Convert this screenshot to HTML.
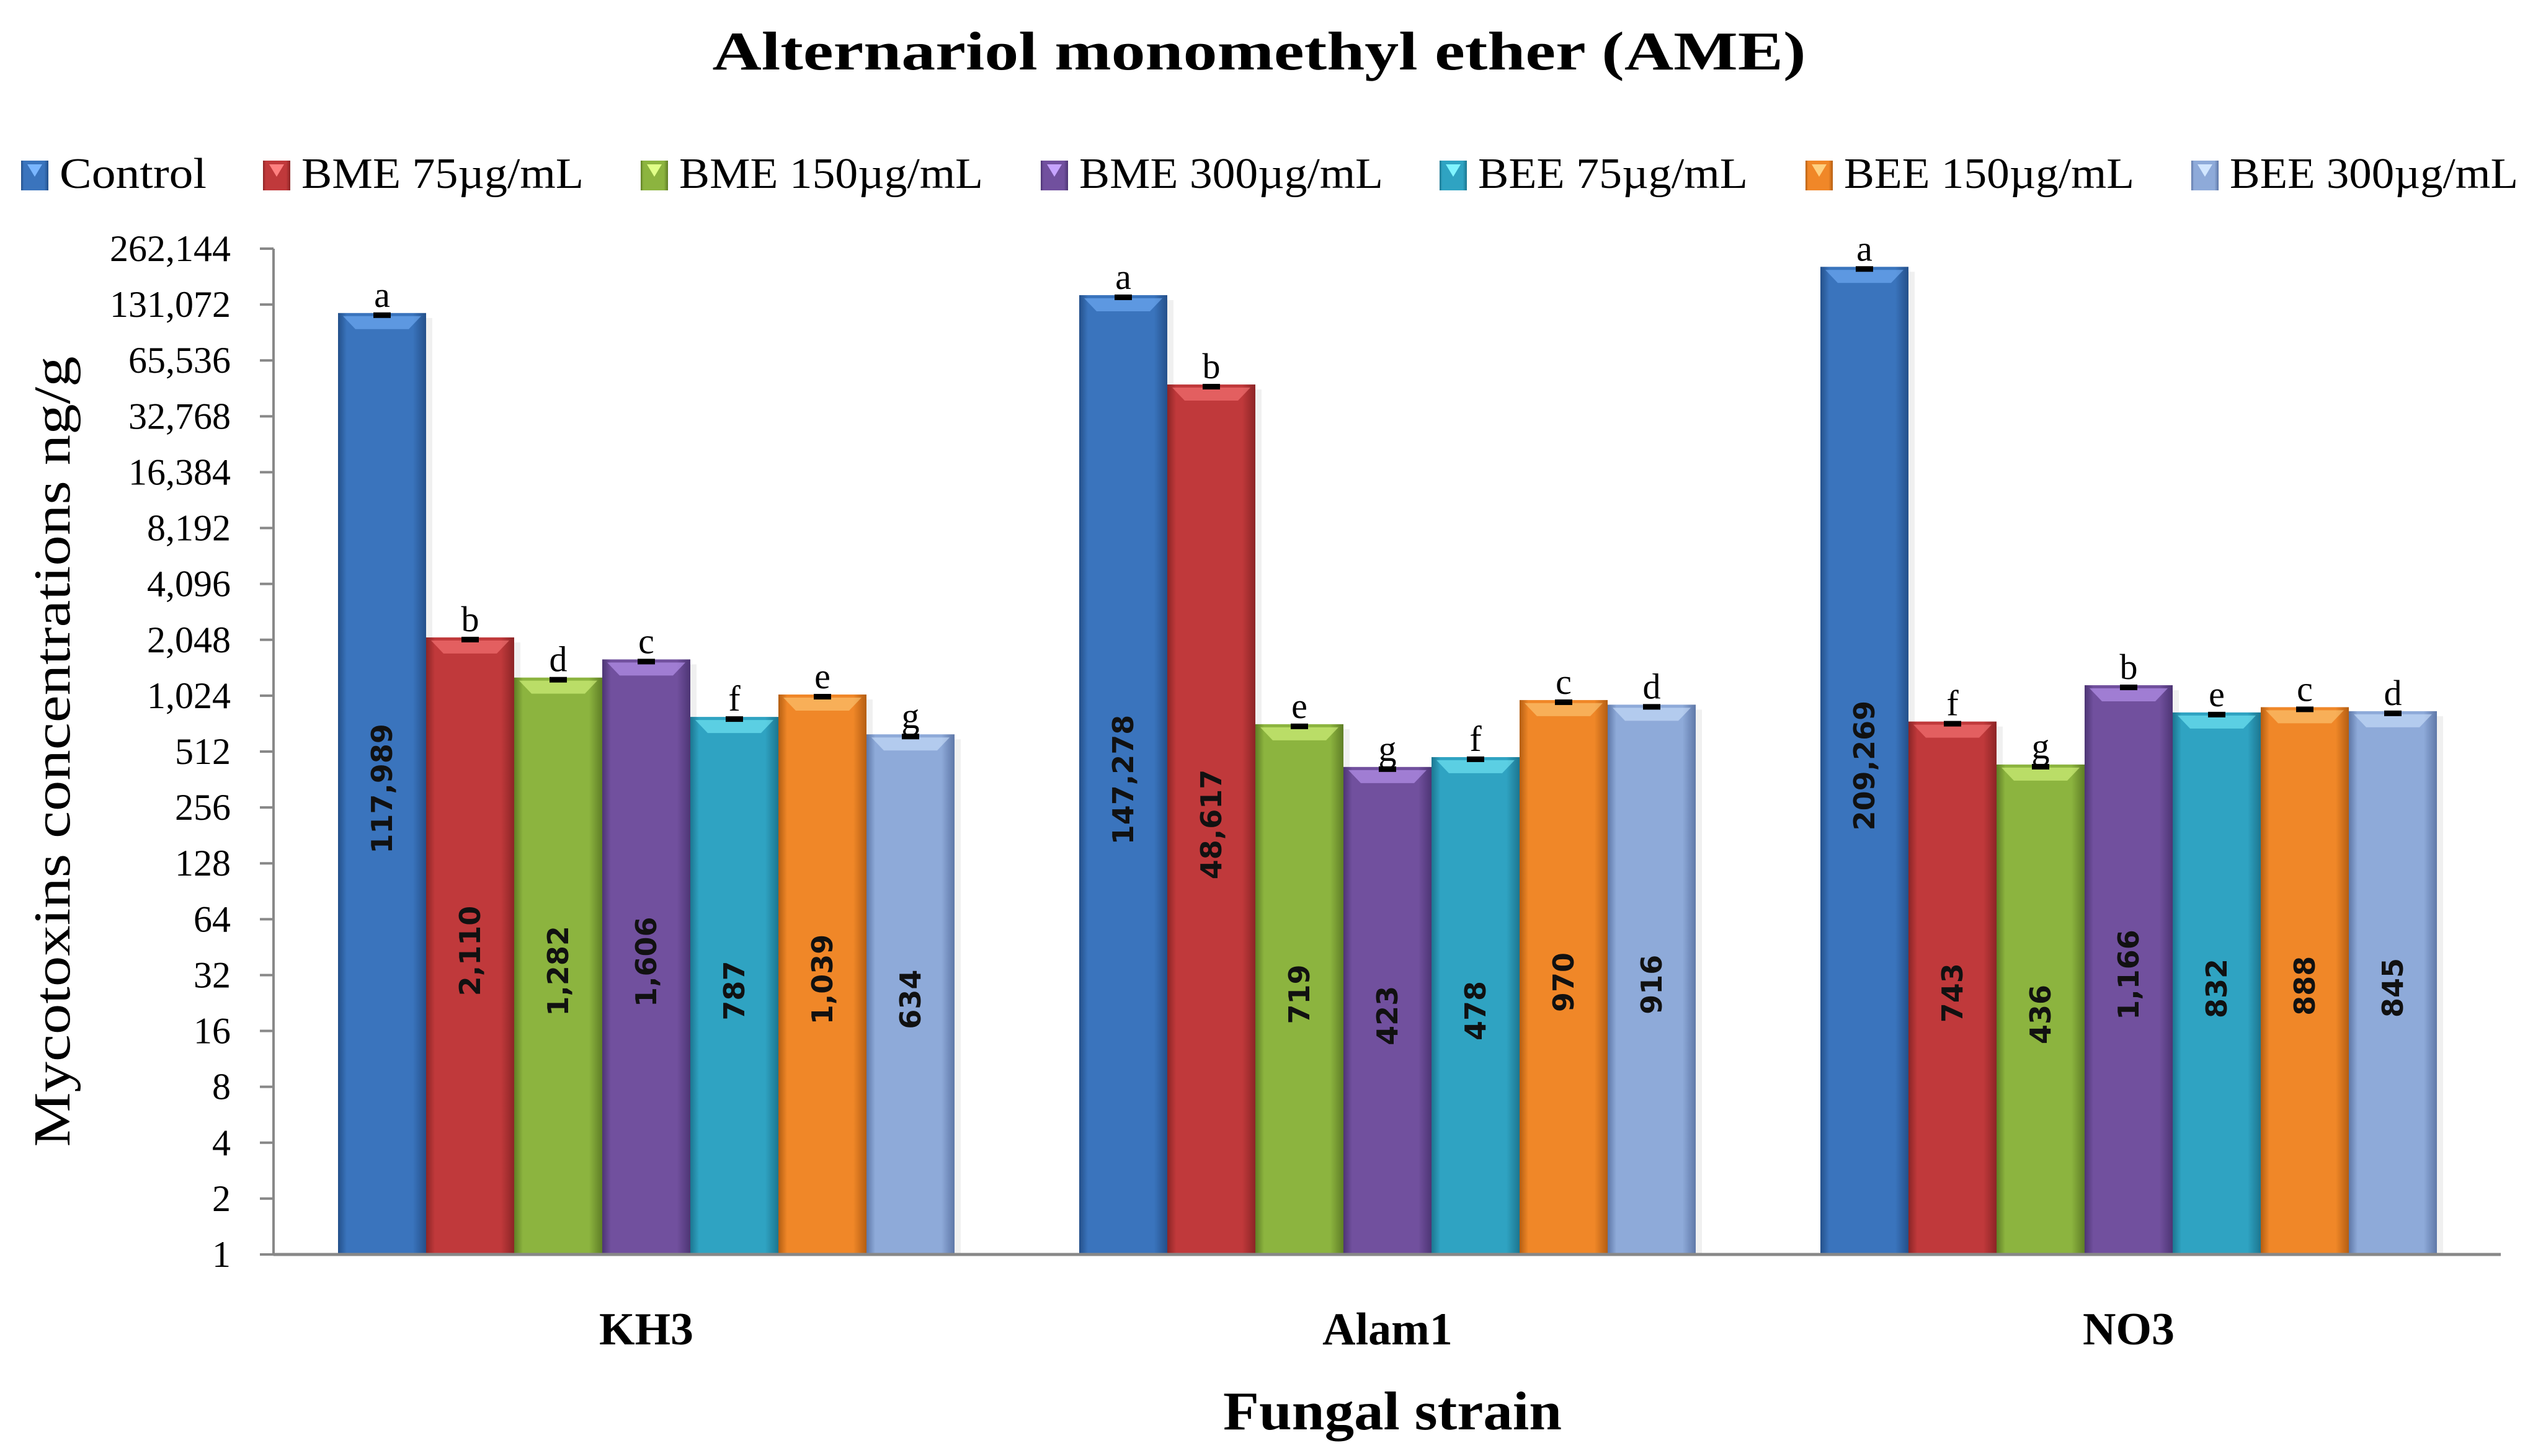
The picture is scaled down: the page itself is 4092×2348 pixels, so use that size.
<!DOCTYPE html>
<html><head><meta charset="utf-8"><style>
html,body{margin:0;padding:0;background:#fff;}
svg{display:block;}
</style></head><body>
<svg id="chart" xmlns="http://www.w3.org/2000/svg" width="4092" height="2348" viewBox="0 0 4092 2348">
<defs id="defs"></defs>
<text x="2030" y="112" text-anchor="middle" font-family="Liberation Serif, serif" font-weight="bold" font-size="88" textLength="1763" lengthAdjust="spacingAndGlyphs">Alternariol monomethyl ether (AME)</text>
<g id="legend"></g>
<g id="bars"></g>
<g id="yaxis"></g>
<g id="xaxis"></g>
<text transform="translate(112,1212) rotate(-90)" text-anchor="middle" font-family="Liberation Serif, serif" font-size="84" textLength="1275" lengthAdjust="spacingAndGlyphs">Mycotoxins concentrations ng/g</text>
<text x="2245" y="2305" text-anchor="middle" font-family="Liberation Serif, serif" font-weight="bold" font-size="88" textLength="546" lengthAdjust="spacingAndGlyphs">Fungal strain</text>
</svg>
<script>
const categories = ["KH3", "Alam1", "NO3"];
const seriesNames = ["Control", "BME 75µg/mL", "BME 150µg/mL", "BME 300µg/mL", "BEE 75µg/mL", "BEE 150µg/mL", "BEE 300µg/mL"];
const control = [117989, 147278, 209269];
const bme75 = [2110, 48617, 743];
const bme150 = [1282, 719, 436];
const bme300 = [1606, 423, 1166];
const bee75 = [787, 478, 832];
const bee150 = [1039, 970, 888];
const bee300 = [634, 916, 845];
const letters = [["a","b","d","c","f","e","g"],["a","b","e","g","f","c","d"],["a","f","g","b","e","c","d"]];
const yTicks = [1,2,4,8,16,32,64,128,256,512,1024,2048,4096,8192,16384,32768,65536,131072,262144];

const series = [control, bme75, bme150, bme300, bee75, bee150, bee300];
const colors = ["#3a74bd","#c0393b","#8cb43f","#71509e","#2fa3c2","#f08728","#8eaad9"];
const dark = ["#24508a","#8c2526","#5f7e26","#4d3574","#1c7690","#b45e12","#5f78a8"];
const light = ["#7ab6ff","#ff8080","#e0ff88","#c6a3ff","#80f4ff","#ffd080","#d2e6ff"];
const NS = "http://www.w3.org/2000/svg";
const defs = document.getElementById('defs');
const X0 = 441, YB = 2023, YT = 401;
const yStep = (YB - YT) / 18;
function yScale(v){ return YB - Math.log2(v) * yStep; }
const catStep = 1195, cat0 = 1042, barW = 142;
function xCat(i){ return cat0 + i * catStep; }
function el(tag, attrs, parent){ const e = document.createElementNS(NS, tag); for (const k in attrs) e.setAttribute(k, attrs[k]); parent.appendChild(e); return e; }

colors.forEach((c, s) => {
  const g = el('linearGradient', {id: 'g' + s, x1: '0', x2: '1', y1: '0', y2: '0'}, defs);
  el('stop', {offset: '0', 'stop-color': dark[s]}, g);
  el('stop', {offset: '0.1', 'stop-color': c}, g);
  el('stop', {offset: '0.85', 'stop-color': c}, g);
  el('stop', {offset: '1', 'stop-color': dark[s]}, g);
});

const ya = document.getElementById('yaxis');
const axl = el('line', {x1: X0, x2: X0, y1: YT, y2: YB, stroke: '#888', 'stroke-width': 4}, ya);


yTicks.forEach(v => {
  const y = yScale(v);
  const t = el('line', {x1: X0 - 22, x2: X0, y1: y, y2: y, stroke: '#888', 'stroke-width': 4}, ya);
  
  
  const tx = el('text', {x: 372, y: y + 20, 'text-anchor': 'end', 'font-family': 'Liberation Serif, serif', 'font-size': 60}, ya);
  
  
  tx.textContent = v.toLocaleString('en-US');
});

const xa = document.getElementById('xaxis');
const xl = el('line', {x1: X0, x2: 4032, y1: YB, y2: YB, stroke: '#888', 'stroke-width': 5}, xa);


categories.forEach((c, i) => {
  const t = el('text', {x: xCat(i), y: 2168, 'text-anchor': 'middle', 'font-family': 'Liberation Serif, serif', 'font-weight': 'bold', 'font-size': 74}, xa);
  
  
  t.textContent = c;
});

const bg = document.getElementById('bars');
categories.forEach((c, i) => {
  series.forEach((vals, s) => {
    const v = vals[i];
    const x = xCat(i) - 3.5 * barW + s * barW;
    const y = yScale(v);
    const h = YB - y;
    const sh = el('rect', {x: x + barW, y: y + 8, width: 10, height: h - 8, fill: '#000', opacity: 0.06}, bg);
    
    
    const r = el('rect', {x: x, y: y, width: barW, height: h, fill: 'url(#g' + s + ')'}, bg);
    
    
    const hl = el('polygon', {points: `${x+8},${y+5} ${x+barW-8},${y+5} ${x+barW-28},${y+26} ${x+28},${y+26}`, fill: light[s], opacity: 0.55}, bg);
    
    
    const cap = el('rect', {x: x + barW/2 - 14, y: y - 1, width: 28, height: 9, fill: '#000'}, bg);
    
    
    const lt = el('text', {x: x + barW/2, y: y - 10, 'text-anchor': 'middle', 'font-family': 'Liberation Serif, serif', 'font-size': 58}, bg);
    
    
    lt.textContent = letters[i][s];
    const cy = y + h / 2 + 8;
    const vt = el('text', {transform: `translate(${x + barW/2 + 16},${cy}) rotate(-90)`, 'text-anchor': 'middle', 'font-family': 'DejaVu Sans, sans-serif', 'font-weight': 'bold', 'font-size': 46, fill: '#111'}, bg);
    
    
    vt.textContent = v.toLocaleString('en-US');
  });
});

const lg = document.getElementById('legend');
const legX = [34, 424, 1033, 1678, 2321, 2911, 3533];
const legW = [237, 455, 490, 490, 435, 468, 465];
seriesNames.forEach((n, s) => {
  const m = el('rect', {x: legX[s], y: 259, width: 44, height: 48, fill: 'url(#g' + s + ')'}, lg);
  
  
  const hm = el('polygon', {points: `${legX[s]+10},${265} ${legX[s]+34},${265} ${legX[s]+22},${285}`, fill: light[s]}, lg);
  
  
  const t = el('text', {x: legX[s] + 62, y: 303, 'font-family': 'Liberation Serif, serif', 'font-size': 70, textLength: legW[s], lengthAdjust: 'spacingAndGlyphs'}, lg);
  
  
  t.textContent = n;
});
</script>
</body></html>
